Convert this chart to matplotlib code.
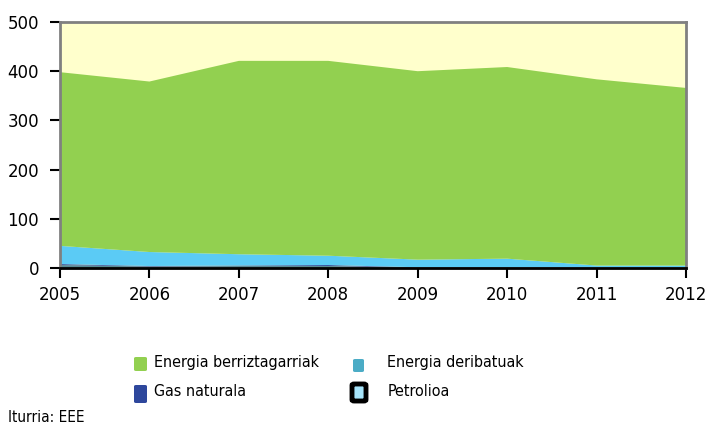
import matplotlib
matplotlib.use("Agg")
import matplotlib.pyplot as plt
from matplotlib.patches import FancyBboxPatch

years = [2005, 2006, 2007, 2008, 2009, 2010, 2011, 2012]
deribatuak = [6, 3, 4, 4, 1, 1, 0.5, 0.5]
gas_naturala = [2, 1, 1, 2, 0.5, 0.5, 0.5, 0.5]
petrolioa = [37, 28.5, 23, 19, 15.5, 17.5, 4, 4]
berriztagarriak = [353, 346.5, 393, 396, 383, 389.5, 378.5, 361]

labels = ["Energia deribatuak", "Gas naturala", "Petrolioa", "Energia berriztagarriak"]
colors = ["#5A8A94", "#2E479C", "#5BCBF5", "#92D050"]

W, H = 718, 428
fig = plt.figure(figsize=(W / 100, H / 100), dpi=100)
ax = fig.add_axes([60 / W, 160 / H, 626 / W, 246 / H])
ax.set_facecolor("#FFFFCC")

ax.stackplot(years, deribatuak, gas_naturala, petrolioa, berriztagarriak,
             colors=colors, labels=labels, linewidth=0)

ax.set_xlim(2005, 2012)
ax.set_ylim(0, 500)
ax.set_xticks(years)
ax.set_yticks(range(0, 501, 100))
ax.tick_params(axis="both", direction="out", length=7, width=1.5, labelsize=12)
ax.tick_params(axis="y", pad=8)
ax.tick_params(axis="x", pad=6)

for side in ["top", "right", "left"]:
    ax.spines[side].set_color("#808080")
    ax.spines[side].set_linewidth(2)
ax.spines["bottom"].set_color("black")
ax.spines["bottom"].set_linewidth(2)

# legend, drawn by hand to match the original layout
leg_font = dict(family="DejaVu Sans", stretch="condensed", size=11.5, va="center")
leg_items = [
    # (x0, y0, w, h, face, edge, lw, text_x, text_y, label)
    (134, 357, 13, 14, "#92D050", "none", 0, 154, 363, "Energia berriztagarriak"),
    (353, 359, 11, 13, "#4BACC6", "none", 0, 387, 363, "Energia deribatuak"),
    (134, 385, 13, 18, "#2E479C", "none", 0, 154, 392, "Gas naturala"),
    (352, 384, 14, 17, "#A6E4FA", "black", 3.5, 388, 392, "Petrolioa"),
]
for x0, y0, w, h, fc, ec, lw, tx, ty, lab in leg_items:
    fig.patches.append(FancyBboxPatch(
        (x0 / W, 1 - (y0 + h) / H), w / W, h / H,
        boxstyle="round,pad=0,rounding_size=0.003", transform=fig.transFigure,
        facecolor=fc, edgecolor=ec, linewidth=lw))
    fig.text(tx / W, 1 - ty / H, lab, **leg_font)

fig.text(8 / W, 1 - 417 / H, "Iturria: EEE", family="DejaVu Sans",
         stretch="condensed", size=11, va="center")

fig.savefig("out.png", dpi=100)
